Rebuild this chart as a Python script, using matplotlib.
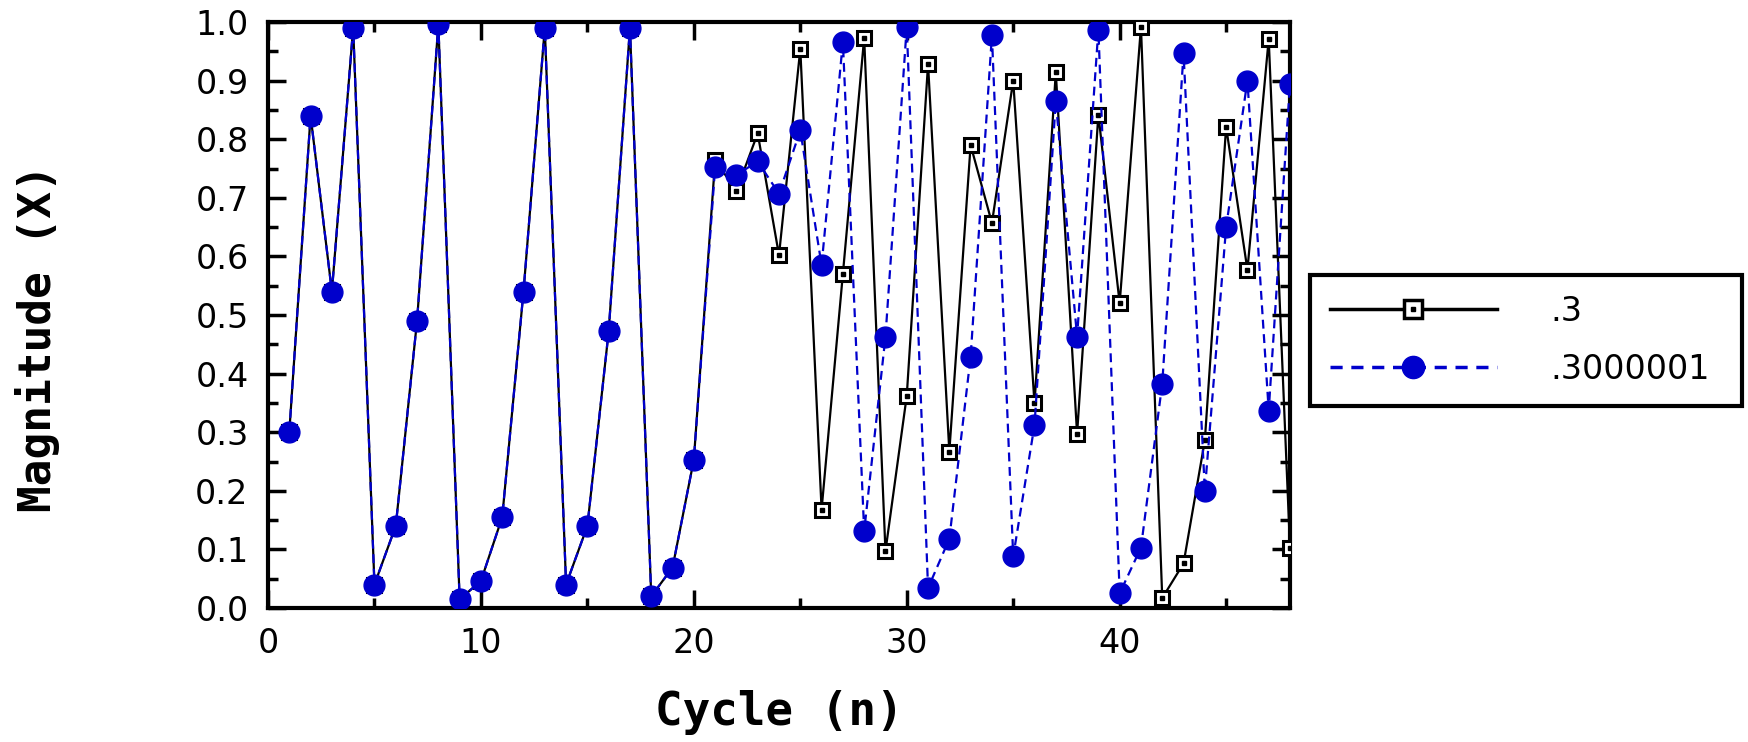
import numpy as np
import matplotlib.pyplot as plt
from matplotlib.lines import Line2D
from matplotlib.legend_handler import HandlerTuple
from matplotlib.ticker import MultipleLocator

# values, cycles 1..48
cycles = list(range(1, 49))

mag_03 = [0.30, 0.84, 0.54, 0.99, 0.04, 0.14, 0.49, 0.996, 0.015, 0.046,
          0.155, 0.54, 0.99, 0.04, 0.14, 0.472, 0.99, 0.02, 0.069, 0.253,
          0.764, 0.712, 0.81, 0.602, 0.954, 0.168, 0.57, 0.973, 0.097, 0.362,
          0.928, 0.267, 0.79, 0.657, 0.90, 0.349, 0.914, 0.297, 0.842, 0.52,
          0.992, 0.017, 0.076, 0.286, 0.821, 0.577, 0.971, 0.103]

mag_03000001 = [0.30, 0.84, 0.54, 0.99, 0.04, 0.14, 0.49, 0.996, 0.015, 0.046,
                0.155, 0.54, 0.99, 0.04, 0.14, 0.472, 0.99, 0.02, 0.069, 0.253,
                0.752, 0.739, 0.762, 0.707, 0.815, 0.585, 0.966, 0.131, 0.463, 0.992,
                0.034, 0.118, 0.429, 0.977, 0.088, 0.312, 0.865, 0.463, 0.987, 0.025,
                0.103, 0.383, 0.947, 0.20, 0.65, 0.90, 0.337, 0.895]

labels = ['.3', '.3000001']
blue = '#0000CC'

W, H = 1748, 742
fig = plt.figure(figsize=(W / 100, H / 100), dpi=100)
ax = fig.add_axes([268 / W, 1 - 608 / H, (1290 - 268) / W, (608 - 22) / H])

# black series: open square with a dot in the middle
ax.plot(cycles, mag_03, color='black', lw=1.6, zorder=2)
ax.plot(cycles, mag_03, ls='none', marker='s', ms=10.5, mfc='white', mec='black', mew=2.2, zorder=3)
ax.plot(cycles, mag_03, ls='none', marker='s', ms=2.5, mfc='black', mec='black', zorder=4)

# blue series: dashed with filled circles
ax.plot(cycles, mag_03000001, color=blue, lw=1.6, ls=(0, (4, 2.5)), zorder=5)
ax.plot(cycles, mag_03000001, ls='none', marker='o', ms=15, mfc=blue, mec=blue, zorder=6)

ax.set_xlim(0, 48)
ax.set_ylim(0, 1.0)
ax.set_xticks([0, 10, 20, 30, 40])
ax.xaxis.set_minor_locator(MultipleLocator(5))
ax.set_yticks(np.arange(0, 1.01, 0.1))
ax.set_yticklabels(['%.1f' % v for v in np.arange(0, 1.01, 0.1)])
ax.yaxis.set_minor_locator(MultipleLocator(0.05))

for s in ax.spines.values():
    s.set_linewidth(3)
ax.tick_params(which='both', direction='in', top=True, right=True, width=2.5)
ax.tick_params(which='major', length=13, pad=14)
ax.tick_params(which='minor', length=7)
for t in ax.get_xticklabels() + ax.get_yticklabels():
    t.set_family('DejaVu Sans')
    t.set_fontsize(24)

ax.set_xlabel('Cycle (n)', family='DejaVu Sans Mono', weight='bold', fontsize=33)
ax.set_ylabel('Magnitude (X)', family='DejaVu Sans Mono', weight='bold', fontsize=32)
ax.xaxis.set_label_coords(0.5, -0.14)
ax.yaxis.set_label_coords(-0.204, 0.46)

h_sq = Line2D([], [], color='black', lw=2.5, marker='s', ms=13, mfc='white', mec='black', mew=2.5)
h_dot = Line2D([], [], ls='none', marker='s', ms=3, mfc='black', mec='black')
h_blue = Line2D([], [], color=blue, lw=2.5, ls=(0, (3.5, 2.5)), marker='o', ms=16, mfc=blue, mec=blue)
leg = fig.legend([(h_sq, h_dot), h_blue], labels,
                 handler_map={tuple: HandlerTuple(ndivide=1)},
                 loc='upper left', mode='expand',
                 bbox_to_anchor=(1310 / W, 1 - 410 / H, 432 / W, 135 / H),
                 prop={'family': 'DejaVu Sans', 'size': 24},
                 handlelength=5.0, handletextpad=1.6, labelspacing=0.75,
                 borderpad=0.6, borderaxespad=0, fancybox=False, framealpha=1)
leg.get_frame().set_edgecolor('black')
leg.get_frame().set_linewidth(3)

fig.savefig('out.png', dpi=100)
